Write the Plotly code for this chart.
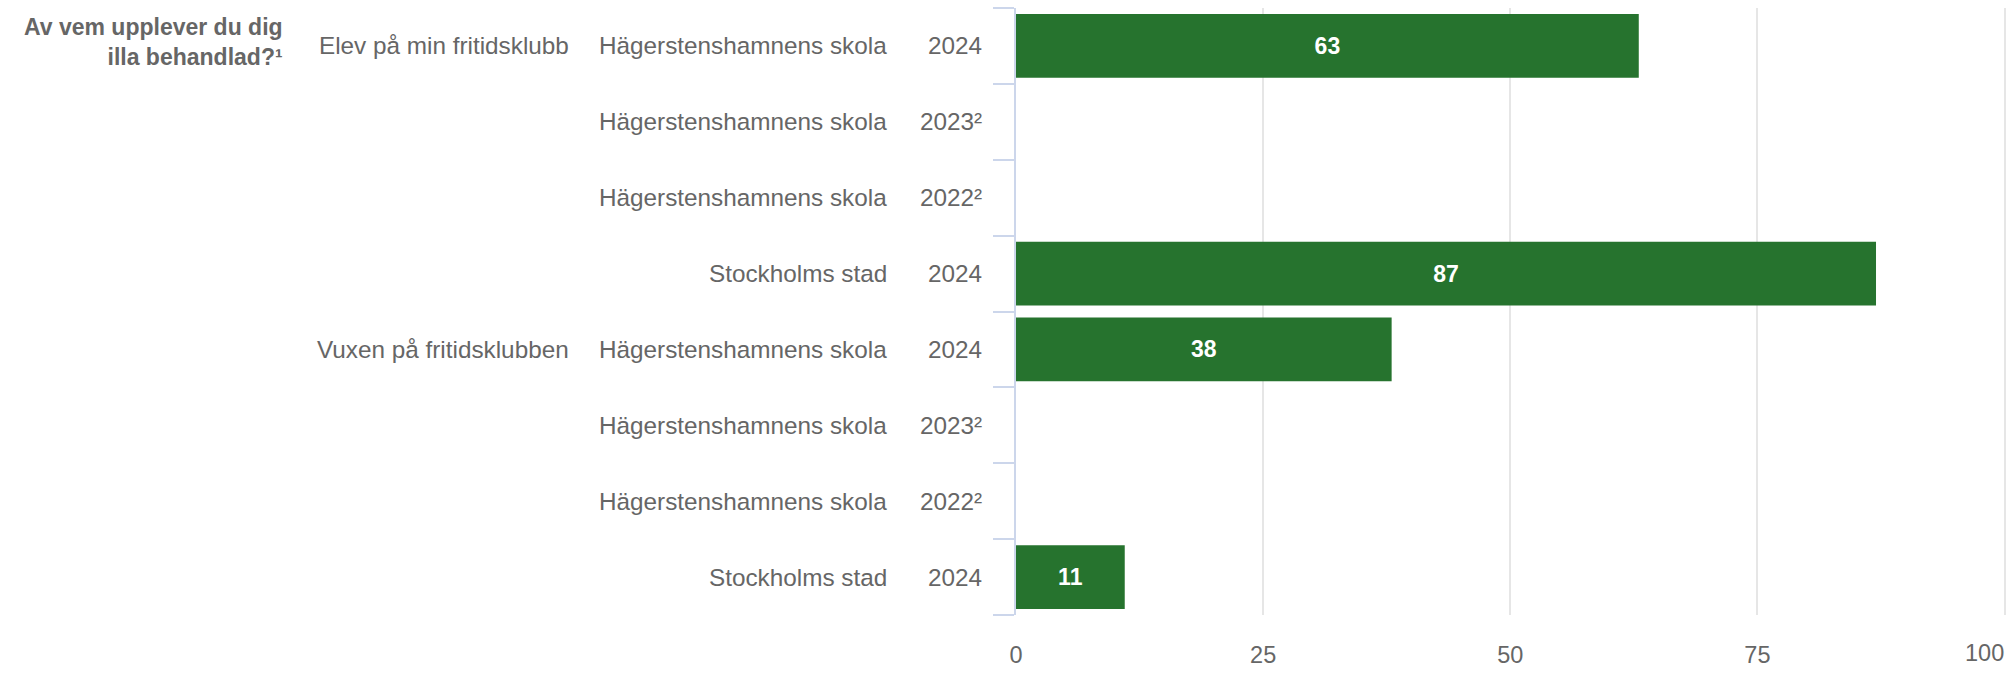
import plotly.graph_objects as go

# ---- data ----
groups = ["Elev på min fritidsklubb", "", "", "", "Vuxen på fritidsklubben", "", "", ""]
units = ["Hägerstenshamnens skola", "Hägerstenshamnens skola", "Hägerstenshamnens skola", "Stockholms stad",
         "Hägerstenshamnens skola", "Hägerstenshamnens skola", "Hägerstenshamnens skola", "Stockholms stad"]
years = ["2024", "2023²", "2022²", "2024", "2024", "2023²", "2022²", "2024"]
values = [63, None, None, 87, 38, None, None, 11]
question = "Av vem upplever du dig<br>illa behandlad?¹"
x_ticks = [0, 25, 50, 75, 100]

FONT = "Liberation Sans, Arial, Helvetica, sans-serif"
GREY = "#666666"
GREEN = "#26732e"
LBL = 24.3

rows = list(range(len(years)))
labels = ["" if v is None else str(v) for v in values]

fig = go.Figure()
fig.add_trace(go.Bar(
    x=values, y=rows, orientation="h",
    marker=dict(color=GREEN, line=dict(width=0)),
    width=0.84,
    text=labels, textposition="inside", insidetextanchor="middle",
    textangle=0, constraintext="none",
    textfont=dict(family=FONT, size=23, color="white", weight="bold"),
    hoverinfo="skip",
))

annotations = []
for i in rows:
    annotations.append(dict(x=0, xref="paper", y=i, yref="y", text=years[i],
                            xanchor="right", yanchor="middle", xshift=-32, showarrow=False,
                            font=dict(family=FONT, size=LBL, color=GREY)))
    annotations.append(dict(x=0, xref="paper", y=i, yref="y", text=units[i],
                            xanchor="right", yanchor="middle", xshift=-127, showarrow=False,
                            font=dict(family=FONT, size=LBL, color=GREY)))
    if groups[i]:
        annotations.append(dict(x=0, xref="paper", y=i, yref="y", text=groups[i],
                                xanchor="right", yanchor="middle", xshift=-445, showarrow=False,
                                font=dict(family=FONT, size=LBL, color=GREY)))
annotations.append(dict(x=0, xref="paper", y=0, yref="y", text=question, align="right",
                        xanchor="right", yanchor="middle", xshift=-731, yshift=4, showarrow=False,
                        font=dict(family=FONT, size=23, color=GREY, weight="bold")))
# last x tick label, kept inside the chart (right-aligned to its gridline)
annotations.append(dict(x=x_ticks[-1], xref="x", y=0, yref="paper", text=str(x_ticks[-1]),
                        xanchor="right", yanchor="middle", yshift=-38, xshift=0, borderpad=0,
                        showarrow=False, font=dict(family=FONT, size=23.5, color=GREY)))

tick_text = [str(t) for t in x_ticks[:-1]] + [""]

fig.update_layout(
    width=2015, height=676,
    margin=dict(l=1016, r=9, t=8, b=46),
    paper_bgcolor="white", plot_bgcolor="white",
    showlegend=False,
    annotations=annotations,
    xaxis=dict(range=[0, 100.15], tickmode="array", tickvals=x_ticks, ticktext=tick_text,
               showgrid=True, gridcolor="#e6e6e6", gridwidth=1.5, zeroline=False,
               showline=False, ticks="outside", ticklen=19, tickcolor="rgba(0,0,0,0)",
               tickfont=dict(family=FONT, size=23.5, color=GREY)),
    yaxis=dict(range=[len(years) - 0.5, -0.5], tickmode="array",
               tickvals=[r - 0.5 for r in rows] + [len(years) - 0.5],
               showticklabels=False, showgrid=False, zeroline=False,
               ticks="outside", ticklen=21, tickwidth=1.5, tickcolor="#ccd6eb",
               showline=True, linecolor="#ccd6eb", linewidth=1.5),
)

# make the page exactly the figure's size (no default body margin, nothing below it)
page_css = ("document.documentElement.style.cssText='margin:0;padding:0;height:676px;overflow:hidden';"
            "document.body.style.cssText='margin:0;padding:0;height:676px;overflow:hidden';")
fig.write_html("out.html", config={"displayModeBar": False}, post_script=page_css)
